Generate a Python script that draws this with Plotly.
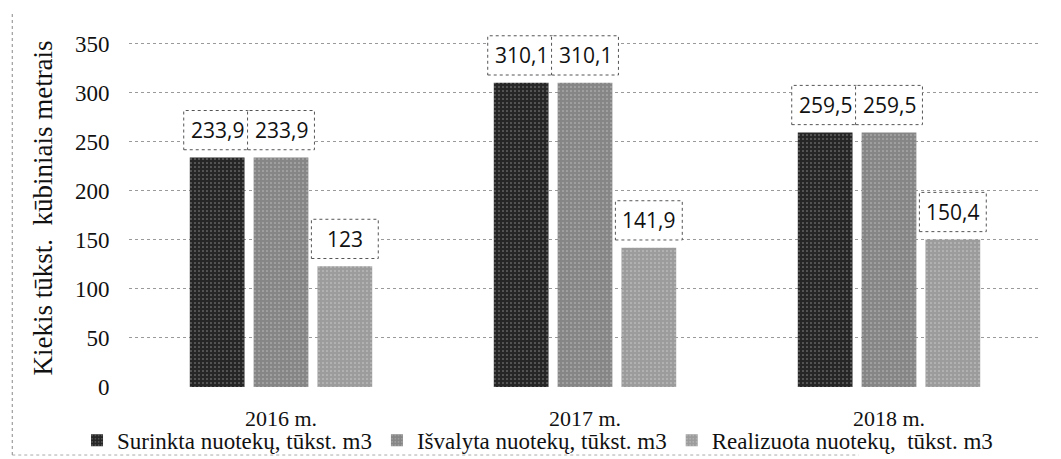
import plotly.graph_objects as go

categories = ["2016 m.", "2017 m.", "2018 m."]
series_names = ["Surinkta nuotekų, tūkst. m3", "Išvalyta nuotekų, tūkst. m3", "Realizuota nuotekų,  tūkst. m3"]
surinkta = [233.9, 310.1, 259.5]
isvalyta = [233.9, 310.1, 259.5]
realizuota = [123, 141.9, 150.4]
label_text = [["233,9", "310,1", "259,5"], ["233,9", "310,1", "259,5"], ["123", "141,9", "150,4"]]

series_values = [surinkta, isvalyta, realizuota]
colors = ["#262626", "#868686", "#9c9c9c"]

serif = "Liberation Serif"
sans = "Open Sans"

bar_w = 0.18
step = 0.21
box_w = 0.22

fig = go.Figure()
for s, (name, vals) in enumerate(zip(series_names, series_values)):
    xs = [i + (s - 1) * step for i in range(len(categories))]
    fig.add_trace(go.Bar(
        x=xs, y=vals, width=bar_w, name=name,
        marker=dict(color=colors[s], line=dict(width=0),
                    pattern=dict(shape=".", fgcolor="#ffffff", size=4, solidity=0.12)),
        hoverinfo="skip",
    ))
    for xv, v, t in zip(xs, vals, label_text[s]):
        fig.add_shape(type="rect", xref="x", yref="y",
                      x0=xv - box_w / 2, x1=xv + box_w / 2, y0=v + 8, y1=v + 48,
                      line=dict(color="#555555", width=1, dash="dot"),
                      fillcolor="white", layer="above")
        fig.add_annotation(x=xv, y=v + 28, xref="x", yref="y", text=t, showarrow=False,
                           font=dict(family=sans, size=21, color="#111111"),
                           xanchor="center", yanchor="middle")

# dotted chart-area border (left and bottom)
fig.add_shape(type="line", xref="paper", yref="paper", x0=-0.128, x1=-0.128, y0=-0.19, y1=1.05,
              line=dict(color="#888888", width=1, dash="dot"))
fig.add_shape(type="line", xref="paper", yref="paper", x0=-0.128, x1=0.8, y0=-0.19, y1=-0.19,
              line=dict(color="#aaaaaa", width=1, dash="dot"))

fig.update_layout(
    width=1061, height=459,
    margin=dict(l=129, r=20, t=29, b=72, autoexpand=False),
    paper_bgcolor="white", plot_bgcolor="white",
    barmode="overlay",
    showlegend=True,
    legend=dict(orientation="h", x=-0.057, xanchor="left", y=-0.149, yanchor="middle",
                font=dict(family=serif, size=23, color="#111111"),
                bgcolor="rgba(0,0,0,0)",
                itemwidth=30, tracegroupgap=0),
    font=dict(family=serif, color="#111111"),
)
fig.update_xaxes(
    range=[-0.5, 2.5], tickvals=[0, 1, 2], ticktext=categories,
    tickfont=dict(family=serif, size=22, color="#111111"),
    showgrid=False, zeroline=False, showline=False, automargin=False,
    ticks="outside", ticklen=12, tickcolor="rgba(0,0,0,0)",
)
fig.update_yaxes(
    range=[0, 365], tickvals=[0, 50, 100, 150, 200, 250, 300, 350],
    tickfont=dict(family=serif, size=23, color="#111111"),
    showgrid=True, gridcolor="#9a9a9a", griddash="dot", gridwidth=1,
    zeroline=False, showline=False, automargin=False,
    ticks="outside", ticklen=14, tickcolor="rgba(0,0,0,0)",
    title=dict(text="Kiekis tūkst.\u00a0 kūbiniais metrais", font=dict(family=serif, size=27, color="#111111"),
               standoff=14),
)

fig.write_html("out.html", config={"displayModeBar": False},
               post_script="document.body.style.margin='0';document.body.style.overflow='hidden';")
